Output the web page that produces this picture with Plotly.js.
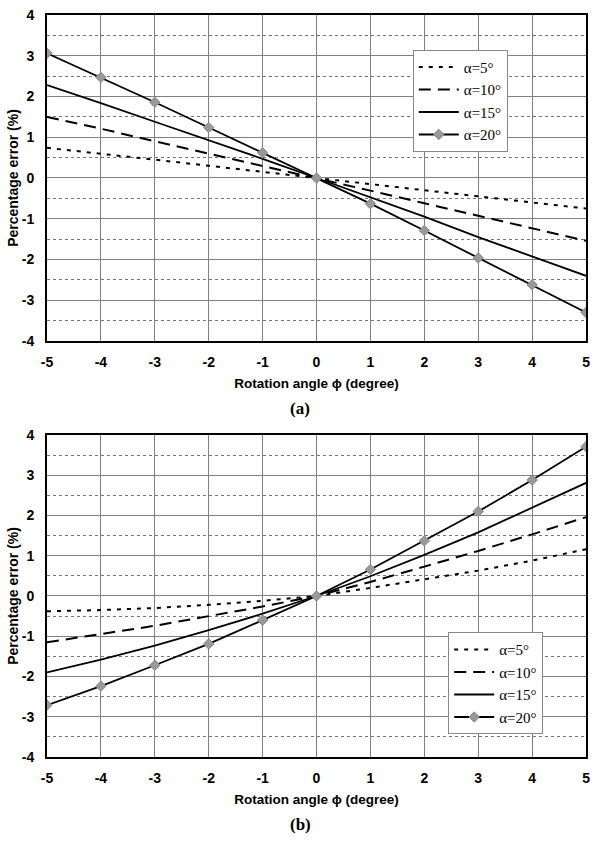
<!DOCTYPE html>
<html><head><meta charset="utf-8">
<script src="https://cdn.plot.ly/plotly-3.0.1.min.js"></script>
<style>html,body{margin:0;padding:0;background:#fff}#plot{width:600px;height:843px}</style>
</head><body><div id="plot"></div>
<script>
var angles = [-5,-4,-3,-2,-1,0,1,2,3,4,5];
var seriesNames = ["α=5°","α=10°","α=15°","α=20°"];
// (a)
var a5  = [0.74,0.60,0.45,0.30,0.15,0,-0.15,-0.30,-0.45,-0.60,-0.75];
var a10 = [1.50,1.21,0.90,0.60,0.30,0,-0.31,-0.62,-0.93,-1.23,-1.54];
var a15 = [2.28,1.84,1.38,0.93,0.47,0,-0.47,-0.95,-1.45,-1.93,-2.40];
var a20 = [3.06,2.47,1.86,1.24,0.62,0,-0.63,-1.29,-1.96,-2.62,-3.30];
// (b)
var b5  = [-0.38,-0.35,-0.30,-0.22,-0.12,0,0.20,0.41,0.63,0.88,1.16];
var b10 = [-1.15,-0.95,-0.74,-0.50,-0.26,0,0.35,0.73,1.12,1.53,1.96];
var b15 = [-1.90,-1.58,-1.23,-0.85,-0.44,0,0.49,1.02,1.58,2.19,2.81];
var b20 = [-2.71,-2.24,-1.72,-1.19,-0.60,0,0.66,1.37,2.10,2.88,3.71];
var xTicks = [-5,-4,-3,-2,-1,0,1,2,3,4,5];
var yTicks = [-4,-3,-2,-1,0,1,2,3,4];

var styles = [
  {line:{color:'#000',width:2,dash:'4px,6px'},mode:'lines'},
  {line:{color:'#000',width:2,dash:'12px,7px'},mode:'lines'},
  {line:{color:'#000',width:1.8},mode:'lines'},
  {line:{color:'#000',width:1.8},mode:'lines+markers',marker:{symbol:'diamond',size:8,color:'#999',line:{color:'#888',width:1}}}
];
function mk(y, i, xa, ya, leg){
  var t = {x:angles, y:y, name:seriesNames[i], xaxis:xa, yaxis:ya, legend:leg, type:'scatter'};
  t.mode = styles[i].mode; t.line = styles[i].line; if(styles[i].marker) t.marker = styles[i].marker;
  return t;
}
var data = [
  mk(a5,0,'x','y','legend'), mk(a10,1,'x','y','legend'), mk(a15,2,'x','y','legend'), mk(a20,3,'x','y','legend'),
  mk(b5,0,'x2','y2','legend2'), mk(b10,1,'x2','y2','legend2'), mk(b15,2,'x2','y2','legend2'), mk(b20,3,'x2','y2','legend2')
];
var tickF = {family:'Liberation Sans, Arial', size:14, color:'#000', weight:'bold'};
var titleF = {family:'Liberation Sans, Arial', size:13.5, color:'#000', weight:'bold'};
var ytitleF = {family:'Liberation Sans, Arial', size:14, color:'#000', weight:'bold'};
function xax(anchor){
  return {domain:[0.0783,0.9767], anchor:anchor, range:[-5,5], tickvals:xTicks, ticktext:xTicks.map(String),
    showgrid:true, gridcolor:'#808080', gridwidth:1, zeroline:false, showline:true, linecolor:'#000', linewidth:2, mirror:true,
    ticks:'', ticklabelstandoff:7, tickfont:tickF,
    title:{text:'Rotation angle ϕ (degree)', font:titleF, standoff:10}};
}
function yax(dom, anchor){
  return {domain:dom, anchor:anchor, range:[-4,4], tickvals:yTicks, ticktext:yTicks.map(String),
    showgrid:true, gridcolor:'#808080', gridwidth:1, zeroline:false, showline:true, linecolor:'#000', linewidth:2, mirror:true,
    ticks:'', ticklabelstandoff:8, tickfont:tickF,
    minor:{dtick:0.5, tick0:0, showgrid:true, gridcolor:'#777', gridwidth:1, griddash:'dot'},
    title:{text:'Percentage error (%)', font:ytitleF, standoff:0}};
}
var legStyle = {bgcolor:'#fff', bordercolor:'#888', borderwidth:1, font:{family:'Liberation Serif, Times New Roman', size:15, color:'#000'},
  xanchor:'left', yanchor:'top', tracegroupgap:0, itemwidth:40};
var capF = {family:'Liberation Serif, Times New Roman', size:17, color:'#000', weight:'bold'};
var layout = {
  width:600, height:843, margin:{l:0,r:0,t:0,b:0}, paper_bgcolor:'#fff', plot_bgcolor:'#fff', showlegend:true,
  xaxis: xax('y'), yaxis: yax([0.5955,0.9822],'x'),
  xaxis2: xax('y2'), yaxis2: yax([0.1020,0.4840],'x2'),
  legend: Object.assign({x:0.688, y:0.941}, legStyle),
  legend2: Object.assign({x:0.747, y:0.25}, legStyle),
  annotations:[
    {text:'(a)', x:0.5, y:1-408/843, xref:'paper', yref:'paper', xanchor:'center', yanchor:'middle', showarrow:false, font:capF},
    {text:'(b)', x:0.5, y:1-824/843, xref:'paper', yref:'paper', xanchor:'center', yanchor:'middle', showarrow:false, font:capF}
  ]
};
Plotly.newPlot('plot', data, layout, {displayModeBar:false, staticPlot:true});
</script></body></html>
